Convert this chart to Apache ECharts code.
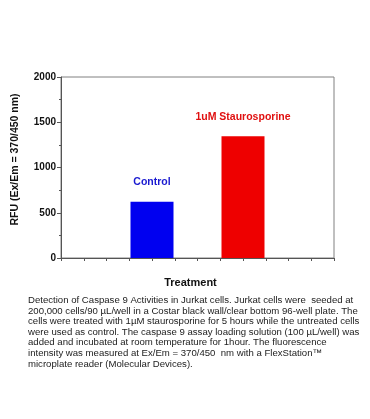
<!DOCTYPE html>
<html><head><meta charset="utf-8">
<script src="https://cdn.jsdelivr.net/npm/echarts@6/dist/echarts.min.js"></script>
<style>html,body{margin:0;padding:0;background:#fff}#c{width:370px;height:419px}</style>
</head><body><div id="c"></div>
<script>
const categories = ['Control', '1uM Staurosporine'];
const positions = [4, 8];
const values = [622, 1345];
const barColors = ['#0000f0', '#ee0000'];
const labelColors = ['#1a1ad0', '#e01010'];
const yTicks = [0, 500, 1000, 1500, 2000];
const caption = [
  'Detection of Caspase 9 Activities in Jurkat cells. Jurkat cells were  seeded at',
  '200,000 cells/90 \u00b5L/well in a Costar black wall/clear bottom 96-well plate. The',
  'cells were treated with 1\u00b5M staurosporine for 5 hours while the untreated cells',
  'were used as control. The caspase 9 assay loading solution (100 \u00b5L/well) was',
  'added and incubated at room temperature for 1hour. The fluorescence',
  'intensity was measured at Ex/Em = 370/450  nm with a FlexStation\u2122',
  'microplate reader (Molecular Devices).'
];
const chart = echarts.init(document.getElementById('c'));
chart.setOption({
  animation: false,
  grid: {left: 61, top: 77, width: 273, height: 181, show: true, borderColor: '#808080', borderWidth: 1},
  xAxis: {
    type: 'value', min: 0, max: 12, interval: 1,
    name: 'Treatment', nameLocation: 'middle', nameGap: 19,
    nameTextStyle: {fontFamily: 'Liberation Sans', fontWeight: 'bold', fontSize: 11, color: '#111', padding: [0, 14, 0, 0]},
    axisLine: {lineStyle: {color: '#555'}},
    axisTick: {show: true, length: 3, lineStyle: {color: '#555'}},
    axisLabel: {show: false},
    splitLine: {show: false}
  },
  yAxis: {
    type: 'value', min: yTicks[0], max: yTicks[yTicks.length - 1], interval: 500,
    name: 'RFU (Ex/Em = 370/450 nm)', nameLocation: 'middle', nameGap: 40, nameRotate: 90,
    nameTextStyle: {fontFamily: 'Liberation Sans', fontWeight: 'bold', fontSize: 10.5, color: '#111', padding: [0, 0, 0, 16]},
    axisLine: {show: true, lineStyle: {color: '#555'}},
    axisTick: {show: true, length: 4, lineStyle: {color: '#555'}},
    minorTick: {show: true, splitNumber: 2, length: 2, lineStyle: {color: '#555'}},
    axisLabel: {fontFamily: 'Liberation Sans', fontWeight: 'bold', fontSize: 10, color: '#111', margin: 5,
      formatter: v => String(v)},
    splitLine: {show: false}
  },
  series: [{
    type: 'bar', barWidth: 43,
    data: values.map((v, i) => ({
      value: [positions[i], v],
      itemStyle: {color: barColors[i]},
      label: {show: true, position: 'top', distance: 14, formatter: categories[i],
        fontFamily: 'Liberation Sans', fontWeight: 'bold', fontSize: 10.5, color: labelColors[i]}
    }))
  }],
  graphic: [{
    type: 'text', left: 28, top: 295,
    style: {text: caption.join('\n'), fontFamily: 'Liberation Sans', fontSize: 9.6, lineHeight: 10.6, fill: '#222'}
  }]
});
</script></body></html>
